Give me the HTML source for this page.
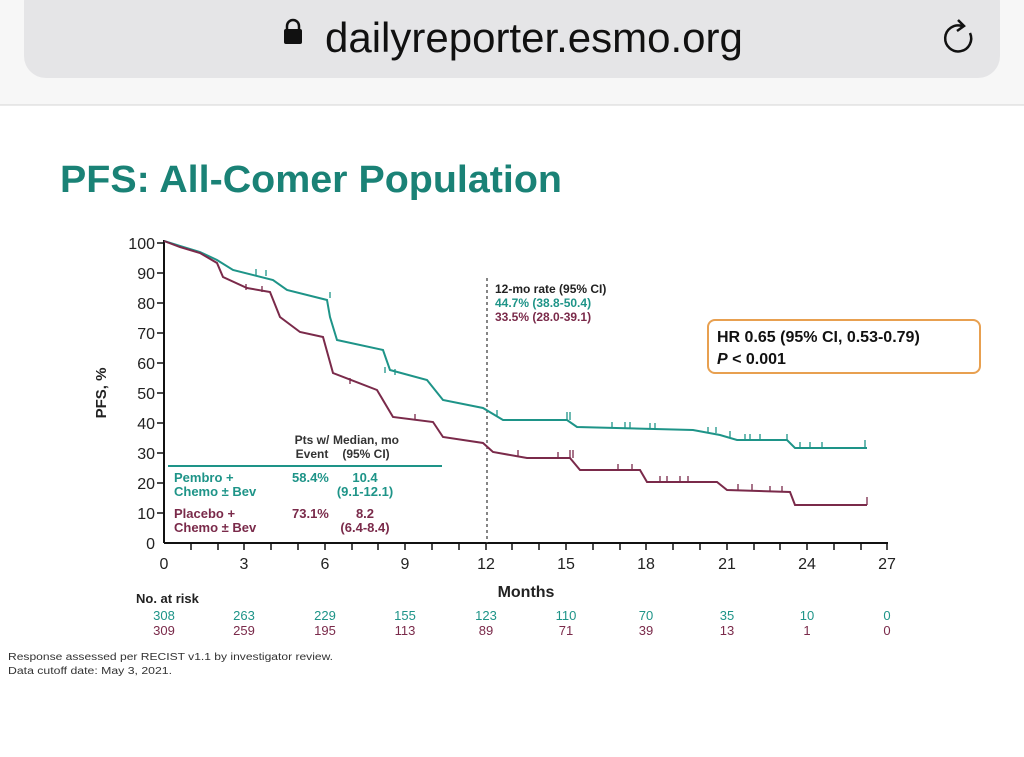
<!DOCTYPE html>
<html><head><meta charset="utf-8"><style>
body{margin:0;width:1024px;height:752px;background:#fff;overflow:hidden;font-family:"Liberation Sans",sans-serif}
</style></head><body>
<svg width="1024" height="752" xmlns="http://www.w3.org/2000/svg" font-family="Liberation Sans, sans-serif">
<rect x="0" y="0" width="1024" height="105" fill="#f7f7f7"/>
<rect x="24" y="-20" width="976" height="98" rx="22" fill="#e5e5e7"/>
<line x1="0" y1="105" x2="1024" y2="105" stroke="#d6d6d6"/>
<rect x="284" y="29" width="18" height="15" rx="2" fill="#111"/>
<path d="M287 30 v-4 a6 6 0 0 1 12 0 v4" fill="none" stroke="#111" stroke-width="2.5"/>
<text x="325" y="52" font-size="42" fill="#111">dailyreporter.esmo.org</text>
<path d="M970 33 a13 13 0 1 1 -8 -7" fill="none" stroke="#111" stroke-width="2.5"/>
<path d="M958 20 l6 6 -7 5" fill="none" stroke="#111" stroke-width="2.5"/>
<text x="60" y="192" font-size="38" font-weight="bold" fill="#1a8276" textLength="502" lengthAdjust="spacingAndGlyphs">PFS: All-Comer Population</text>
<g stroke="#111" stroke-width="2" fill="none">
<line x1="164" y1="240" x2="164" y2="543"/><line x1="164" y1="543" x2="888" y2="543"/>
</g>
<g stroke="#111" stroke-width="1.5">
<line x1="157" y1="243" x2="164" y2="243"/><line x1="157" y1="273" x2="164" y2="273"/><line x1="157" y1="303" x2="164" y2="303"/><line x1="157" y1="333" x2="164" y2="333"/><line x1="157" y1="363" x2="164" y2="363"/><line x1="157" y1="393" x2="164" y2="393"/><line x1="157" y1="423" x2="164" y2="423"/><line x1="157" y1="453" x2="164" y2="453"/><line x1="157" y1="483" x2="164" y2="483"/><line x1="157" y1="513" x2="164" y2="513"/>
<line x1="191" y1="543" x2="191" y2="550"/><line x1="218" y1="543" x2="218" y2="550"/><line x1="244" y1="543" x2="244" y2="550"/><line x1="271" y1="543" x2="271" y2="550"/><line x1="298" y1="543" x2="298" y2="550"/><line x1="325" y1="543" x2="325" y2="550"/><line x1="352" y1="543" x2="352" y2="550"/><line x1="378" y1="543" x2="378" y2="550"/><line x1="405" y1="543" x2="405" y2="550"/><line x1="432" y1="543" x2="432" y2="550"/><line x1="459" y1="543" x2="459" y2="550"/><line x1="486" y1="543" x2="486" y2="550"/><line x1="512" y1="543" x2="512" y2="550"/><line x1="539" y1="543" x2="539" y2="550"/><line x1="566" y1="543" x2="566" y2="550"/><line x1="593" y1="543" x2="593" y2="550"/><line x1="620" y1="543" x2="620" y2="550"/><line x1="646" y1="543" x2="646" y2="550"/><line x1="673" y1="543" x2="673" y2="550"/><line x1="700" y1="543" x2="700" y2="550"/><line x1="727" y1="543" x2="727" y2="550"/><line x1="754" y1="543" x2="754" y2="550"/><line x1="780" y1="543" x2="780" y2="550"/><line x1="807" y1="543" x2="807" y2="550"/><line x1="834" y1="543" x2="834" y2="550"/><line x1="861" y1="543" x2="861" y2="550"/><line x1="887" y1="543" x2="887" y2="550"/>
</g>
<g font-size="16" fill="#222" text-anchor="end">
<text x="155" y="249">100</text><text x="155" y="279">90</text><text x="155" y="309">80</text><text x="155" y="339">70</text><text x="155" y="369">60</text><text x="155" y="399">50</text><text x="155" y="429">40</text><text x="155" y="459">30</text><text x="155" y="489">20</text><text x="155" y="519">10</text><text x="155" y="549">0</text>
</g>
<g font-size="16" fill="#222" text-anchor="middle">
<text x="164" y="569">0</text><text x="244" y="569">3</text><text x="325" y="569">6</text><text x="405" y="569">9</text><text x="486" y="569">12</text><text x="566" y="569">15</text><text x="646" y="569">18</text><text x="727" y="569">21</text><text x="807" y="569">24</text><text x="887" y="569">27</text>
</g>
<text x="526" y="597" font-size="16" font-weight="bold" text-anchor="middle" fill="#222">Months</text>
<text transform="translate(106,393) rotate(-90)" font-size="15" font-weight="bold" text-anchor="middle" fill="#222">PFS, %</text>
<line x1="487" y1="278" x2="487" y2="543" stroke="#444" stroke-width="1.3" stroke-dasharray="3,3"/>
<polyline fill="none" stroke="#1e9488" stroke-width="2" points="164,241 180,246 200,252 217,260 233,270 273,280 287,290 327,300 330,317 337,340 383,350 390,370 427,380 443,400 483,408 503,420 567,420 577,427 693,430 720,435 737,440 787,440 795,448 867,448"/>
<polyline fill="none" stroke="#7a2a4a" stroke-width="2" points="164,241 180,247 200,253 217,263 223,277 247,288 270,292 280,317 300,332 323,337 333,373 377,390 393,417 433,422 443,437 483,443 493,452 527,458 570,458 580,470 640,470 647,482 717,482 727,490 790,492 795,505 867,505"/>
<g stroke="#1e9488" stroke-width="1.3"><path d="M256 275v-6M266 276v-6M330 298v-6M385 373v-6M395 375v-6M497 416v-6M567 420v-8M570 420v-8M612 428v-6M625 428v-6M630 428v-6M650 429v-6M655 429v-6M708 433v-6M716 433v-6M730 437v-6M745 440v-6M750 440v-6M760 440v-6M787 440v-6M800 448v-6M810 448v-6M822 448v-6M865 448v-8"/></g>
<g stroke="#7a2a4a" stroke-width="1.3"><path d="M246 290v-6M262 292v-6M350 384v-6M415 420v-6M518 456v-6M558 458v-6M570 458v-8M573 458v-8M618 470v-6M632 470v-6M660 482v-6M667 482v-6M680 482v-6M688 482v-6M738 490v-6M752 490v-6M770 492v-6M782 492v-6M867 505v-8"/></g>
<line x1="168" y1="466" x2="442" y2="466" stroke="#1e9488" stroke-width="2"/>
<g font-size="12" font-weight="bold" text-anchor="middle" fill="#333">
<text x="312" y="444">Pts w/</text><text x="312" y="458">Event</text>
<text x="366" y="444">Median, mo</text><text x="366" y="458">(95% CI)</text>
</g>
<g font-size="13" font-weight="bold" fill="#1e9488"><text x="174" y="482">Pembro +</text><text x="174" y="496">Chemo ± Bev</text><text x="292" y="482">58.4%</text><text x="365" y="482" text-anchor="middle">10.4</text><text x="365" y="496" text-anchor="middle">(9.1-12.1)</text></g>
<g font-size="13" font-weight="bold" fill="#7a2a4a"><text x="174" y="518">Placebo +</text><text x="174" y="532">Chemo ± Bev</text><text x="292" y="518">73.1%</text><text x="365" y="518" text-anchor="middle">8.2</text><text x="365" y="532" text-anchor="middle">(6.4-8.4)</text></g>
<text x="495" y="293" font-size="12" font-weight="bold" fill="#222">12-mo rate (95% CI)</text>
<text x="495" y="307" font-size="12" font-weight="bold" fill="#1e9488">44.7% (38.8-50.4)</text>
<text x="495" y="321" font-size="12" font-weight="bold" fill="#7a2a4a">33.5% (28.0-39.1)</text>
<rect x="708" y="320" width="272" height="53" rx="7" fill="#fff" stroke="#e8a050" stroke-width="2"/>
<text x="717" y="342" font-size="16" font-weight="bold" fill="#111">HR 0.65 (95% CI, 0.53-0.79)</text>
<text x="717" y="364" font-size="16" font-weight="bold" fill="#111"><tspan font-style="italic">P</tspan> &lt; 0.001</text>
<text x="136" y="603" font-size="13" font-weight="bold" fill="#222">No. at risk</text>
<g font-size="13" text-anchor="middle" fill="#1e9488"><text x="164" y="620">308</text><text x="244" y="620">263</text><text x="325" y="620">229</text><text x="405" y="620">155</text><text x="486" y="620">123</text><text x="566" y="620">110</text><text x="646" y="620">70</text><text x="727" y="620">35</text><text x="807" y="620">10</text><text x="887" y="620">0</text></g>
<g font-size="13" text-anchor="middle" fill="#7a2a4a"><text x="164" y="635">309</text><text x="244" y="635">259</text><text x="325" y="635">195</text><text x="405" y="635">113</text><text x="486" y="635">89</text><text x="566" y="635">71</text><text x="646" y="635">39</text><text x="727" y="635">13</text><text x="807" y="635">1</text><text x="887" y="635">0</text></g>
<text x="8" y="660" font-size="10" fill="#333" textLength="325" lengthAdjust="spacingAndGlyphs">Response assessed per RECIST v1.1 by investigator review.</text>
<text x="8" y="674" font-size="10" fill="#333" textLength="164" lengthAdjust="spacingAndGlyphs">Data cutoff date: May 3, 2021.</text>
</svg>
</body></html>
